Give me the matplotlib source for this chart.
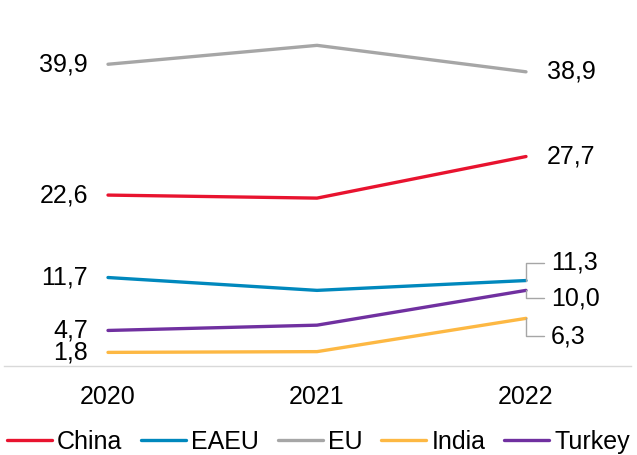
import matplotlib
matplotlib.use("Agg")
import matplotlib.pyplot as plt

plt.rcParams['font.family'] = ['Liberation Sans', 'DejaVu Sans']

years = ["2020", "2021", "2022"]
china = [22.6, 22.2, 27.7]
eaeu = [11.7, 10.0, 11.3]
eu = [39.9, 42.4, 38.9]
india = [1.8, 1.9, 6.3]
turkey = [4.7, 5.4, 10.0]

series = [("China", china, "#E8132F"),
          ("EAEU", eaeu, "#0088BD"),
          ("EU", eu, "#A6A6A6"),
          ("India", india, "#FDB843"),
          ("Turkey", turkey, "#7030A0")]

fig = plt.figure(figsize=(6.37, 4.55), dpi=100)
ax = fig.add_axes([3.5 / 637, 89 / 455, 627 / 637, 363 / 455])
x = range(len(years))
for name, vals, col in series:
    ax.plot(x, vals, color=col, lw=2.4, label=name, solid_capstyle="round")

def fmt(v):
    return f"{v:.1f}".replace(".", ",")

fs = 18
# left labels
for name, vals, col in series:
    ax.annotate(fmt(vals[0]), (0, vals[0]), xytext=(-20, 0), textcoords="offset pixels",
                ha="right", va="center", fontsize=fs)

# right labels (offset in pixels, leader line or not)
right = {"China": (0, False), "EU": (0, False), "EAEU": (18, True),
         "Turkey": (-8, True), "India": (-18, True)}
for name, vals, col in series:
    dy, lead = right[name]
    kw = {}
    if lead:
        kw["arrowprops"] = dict(arrowstyle="-", color="#A6A6A6", lw=1,
                                connectionstyle="angle,angleA=0,angleB=90,rad=0",
                                relpos=(0, 0.5), shrinkA=3, shrinkB=0)
    dx = 25 if lead else 21
    ax.annotate(fmt(vals[2]), (2, vals[2]), xytext=(dx, dy), textcoords="offset pixels",
                ha="left", va="center", fontsize=fs, **kw)

ax.set_xlim(-0.5, 2.5)
ax.set_ylim(0, 48)
ax.set_xticks(list(x))
ax.set_xticklabels(years, fontsize=fs)
ax.tick_params(axis="x", length=0, pad=14)
ax.set_yticks([])
for s in ["top", "right", "left"]:
    ax.spines[s].set_visible(False)
ax.spines["bottom"].set_color("#D9D9D9")
ax.spines["bottom"].set_linewidth(1)

fig.legend(loc="lower center", bbox_to_anchor=(0.5, -0.03), ncol=5, frameon=False,
           fontsize=fs, handlelength=1.8, handletextpad=0.2, columnspacing=0.75,
           borderaxespad=0.2)

fig.savefig("out.png", dpi=100)
